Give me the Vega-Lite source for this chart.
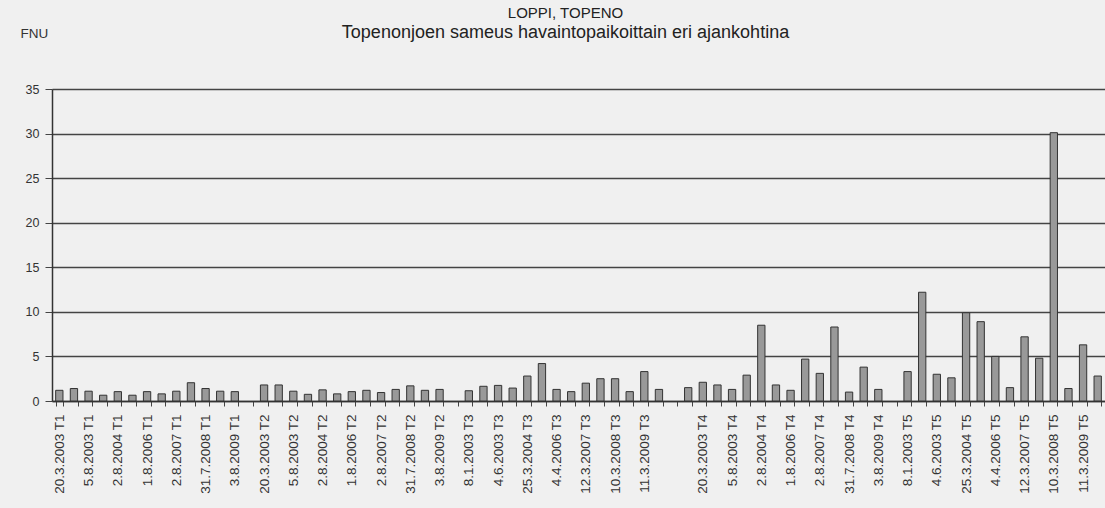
{
  "$schema": "https://vega.github.io/schema/vega-lite/v6.json",
  "width": 1053,
  "height": 312,
  "autosize": {"type": "none"},
  "padding": {"left": 52, "top": 89, "right": 0, "bottom": 107},
  "background": "#f0f0f0",
  "title": {
    "text": "LOPPI, TOPENO",
    "subtitle": "Topenonjoen sameus havaintopaikoittain eri ajankohtina",
    "frame": "group",
    "anchor": "middle",
    "offset": -16,
    "dx": -13,
    "font": "Liberation Sans",
    "fontSize": 15,
    "fontWeight": "normal",
    "color": "#222222",
    "subtitleFont": "Liberation Sans",
    "subtitleFontSize": 18,
    "subtitleColor": "#222222",
    "subtitlePadding": 3
  },
  "data": {
    "values": [
      {"k": "20.3.2003 T1", "v": 1.2},
      {"k": "4.6.2003 T1", "v": 1.4},
      {"k": "5.8.2003 T1", "v": 1.1},
      {"k": "25.3.2004 T1", "v": 0.65},
      {"k": "2.8.2004 T1", "v": 1.05},
      {"k": "4.4.2006 T1", "v": 0.65},
      {"k": "1.8.2006 T1", "v": 1.05},
      {"k": "12.3.2007 T1", "v": 0.8},
      {"k": "2.8.2007 T1", "v": 1.1},
      {"k": "10.3.2008 T1", "v": 2.05},
      {"k": "31.7.2008 T1", "v": 1.4},
      {"k": "11.3.2009 T1", "v": 1.1},
      {"k": "3.8.2009 T1", "v": 1.05},
      {"k": " ", "v": null},
      {"k": "20.3.2003 T2", "v": 1.8},
      {"k": "4.6.2003 T2", "v": 1.8},
      {"k": "5.8.2003 T2", "v": 1.1},
      {"k": "25.3.2004 T2", "v": 0.75},
      {"k": "2.8.2004 T2", "v": 1.25},
      {"k": "4.4.2006 T2", "v": 0.8},
      {"k": "1.8.2006 T2", "v": 1.05},
      {"k": "12.3.2007 T2", "v": 1.2},
      {"k": "2.8.2007 T2", "v": 0.95},
      {"k": "10.3.2008 T2", "v": 1.3},
      {"k": "31.7.2008 T2", "v": 1.7},
      {"k": "11.3.2009 T2", "v": 1.2},
      {"k": "3.8.2009 T2", "v": 1.3},
      {"k": "  ", "v": null},
      {"k": "8.1.2003 T3", "v": 1.15},
      {"k": "20.3.2003 T3", "v": 1.65},
      {"k": "4.6.2003 T3", "v": 1.75},
      {"k": "5.8.2003 T3", "v": 1.45},
      {"k": "25.3.2004 T3", "v": 2.8},
      {"k": "2.8.2004 T3", "v": 4.2},
      {"k": "4.4.2006 T3", "v": 1.3},
      {"k": "1.8.2006 T3", "v": 1.05},
      {"k": "12.3.2007 T3", "v": 2.0},
      {"k": "2.8.2007 T3", "v": 2.5},
      {"k": "10.3.2008 T3", "v": 2.5},
      {"k": "31.7.2008 T3", "v": 1.05},
      {"k": "11.3.2009 T3", "v": 3.3},
      {"k": "3.8.2009 T3", "v": 1.3},
      {"k": "   ", "v": null},
      {"k": "8.1.2003 T4", "v": 1.5},
      {"k": "20.3.2003 T4", "v": 2.1},
      {"k": "4.6.2003 T4", "v": 1.8},
      {"k": "5.8.2003 T4", "v": 1.3},
      {"k": "25.3.2004 T4", "v": 2.9},
      {"k": "2.8.2004 T4", "v": 8.5},
      {"k": "4.4.2006 T4", "v": 1.8},
      {"k": "1.8.2006 T4", "v": 1.2},
      {"k": "12.3.2007 T4", "v": 4.7},
      {"k": "2.8.2007 T4", "v": 3.1},
      {"k": "10.3.2008 T4", "v": 8.3},
      {"k": "31.7.2008 T4", "v": 1.0},
      {"k": "11.3.2009 T4", "v": 3.8},
      {"k": "3.8.2009 T4", "v": 1.3},
      {"k": "    ", "v": null},
      {"k": "8.1.2003 T5", "v": 3.3},
      {"k": "20.3.2003 T5", "v": 12.2},
      {"k": "4.6.2003 T5", "v": 3.0},
      {"k": "5.8.2003 T5", "v": 2.6},
      {"k": "25.3.2004 T5", "v": 9.9},
      {"k": "2.8.2004 T5", "v": 8.9},
      {"k": "4.4.2006 T5", "v": 5.0},
      {"k": "1.8.2006 T5", "v": 1.5},
      {"k": "12.3.2007 T5", "v": 7.2},
      {"k": "2.8.2007 T5", "v": 4.8},
      {"k": "10.3.2008 T5", "v": 30.1},
      {"k": "31.7.2008 T5", "v": 1.4},
      {"k": "11.3.2009 T5", "v": 6.3},
      {"k": "3.8.2009 T5", "v": 2.8}
    ]
  },
  "mark": {
    "type": "bar",
    "fill": "#999999",
    "stroke": "#333333",
    "strokeWidth": 1,
    "invalid": "show"
  },
  "encoding": {
    "x": {
      "field": "k",
      "type": "nominal",
      "sort": null,
      "scale": {"paddingInner": 0.5, "paddingOuter": 0.25},
      "axis": {
        "title": null,
        "labelAngle": -90,
        "labelAlign": "right",
        "labelBaseline": "middle",
        "labelFont": "Liberation Sans",
        "labelFontSize": 13.5,
        "labelColor": "#333333",
        "labelPadding": 8,
        "labelOverlap": false,
        "labelBound": false,
        "labelExpr": "((indexof(['20.3.2003','5.8.2003','2.8.2004','1.8.2006','2.8.2007','31.7.2008','3.8.2009'], split(datum.value, ' ')[0]) >= 0) == (indexof(['T1','T2','T4'], split(datum.value, ' ')[1]) >= 0)) ? datum.value : ''",
        "tickBand": "extent",
        "tickSize": 5,
        "tickColor": "#444444",
        "domainColor": "#333333",
        "domainWidth": 1.5
      }
    },
    "y": {
      "field": "v",
      "type": "quantitative",
      "scale": {"domain": [0, 35]},
      "axis": {
        "title": "FNU",
        "titleAngle": 0,
        "titleAlign": "left",
        "titleBaseline": "middle",
        "titleX": -32,
        "titleY": -56,
        "titleFont": "Liberation Sans",
        "titleFontSize": 13.5,
        "titleFontWeight": "normal",
        "titleColor": "#333333",
        "values": [0, 5, 10, 15, 20, 25, 30, 35],
        "grid": true,
        "gridColor": "#444444",
        "gridWidth": 1.5,
        "gridOpacity": 1,
        "tickSize": 7,
        "tickColor": "#444444",
        "domainColor": "#333333",
        "domainWidth": 1.5,
        "labelFont": "Liberation Sans",
        "labelFontSize": 12.5,
        "labelPadding": 6,
        "labelColor": "#333333"
      }
    },
    "strokeOpacity": {
      "condition": {"test": "datum.v == null", "value": 0},
      "value": 1
    }
  },
  "config": {"view": {"stroke": null}}
}
